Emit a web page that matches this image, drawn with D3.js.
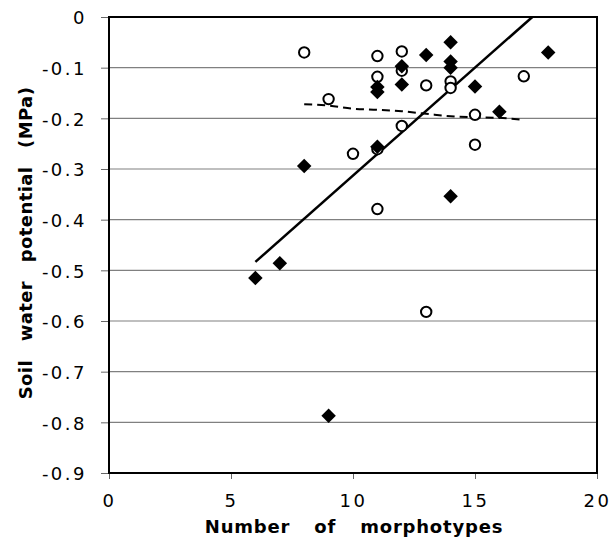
<!DOCTYPE html>
<html>
<head>
<meta charset="utf-8">
<script src="https://cdn.jsdelivr.net/npm/d3@7"></script>
<style>
body { margin: 0; background: #fff; }
svg { display: block; }
text { font-family: "DejaVu Sans", Verdana, sans-serif; fill: #000; }
</style>
</head>
<body>
<svg class="chart"></svg>
<script>
var margin = { top: 17, right: 17, bottom: 75, left: 109 };
var width = 614 - margin.left - margin.right;
var height = 548 - margin.top - margin.bottom;

// open circles
var circX = [8, 11, 12, 11, 12, 13, 14, 14, 17, 9, 15, 12, 15, 10, 11, 11, 13];
var circY = [-0.070, -0.077, -0.068, -0.118, -0.106, -0.135, -0.127, -0.140, -0.117, -0.162, -0.193, -0.215, -0.252, -0.270, -0.261, -0.379, -0.582];

// filled diamonds
var diaX = [14, 13, 14, 14, 12, 12, 11, 11, 18, 15, 16, 11, 8, 14, 6, 7, 9];
var diaY = [-0.050, -0.075, -0.088, -0.100, -0.097, -0.133, -0.138, -0.148, -0.070, -0.137, -0.187, -0.256, -0.294, -0.354, -0.515, -0.486, -0.787];

// dashed trend
var trendX = [8, 9, 10, 11, 12, 13, 14, 15, 16, 17];
var trendY = [-0.172, -0.175, -0.181, -0.183, -0.186, -0.191, -0.196, -0.198, -0.199, -0.203];

// solid regression (y = a + b x)
var regA = -0.739;
var regB = 0.0426;
var regX = [6, 17.35];

var xTicks = [0, 5, 10, 15, 20];
var yTicks = [0, -0.1, -0.2, -0.3, -0.4, -0.5, -0.6, -0.7, -0.8, -0.9];

var chart = d3.select(".chart")
    .attr("width", 614)
    .attr("height", 548);

var g = chart.append("g")
    .attr("transform", "translate(" + margin.left + "," + margin.top + ")");

var x = d3.scaleLinear().domain([0, 20]).range([0, width]);
var y = d3.scaleLinear().domain([0, -0.9]).range([0, height]);

// gridlines
g.selectAll("line.grid")
    .data(yTicks.slice(1, -1))
    .enter()
    .append("line")
    .attr("class", "grid")
    .attr("x1", 0)
    .attr("x2", width)
    .attr("y1", function(d) { return y(d); })
    .attr("y2", function(d) { return y(d); })
    .attr("stroke", "#808080")
    .attr("stroke-width", 1.2);

// axes
var yAxis = g.append("g")
    .call(d3.axisLeft(y).tickValues(yTicks).tickSize(8).tickPadding(14)
        .tickFormat(function(d) { return d === 0 ? "0" : d3.format(".1f")(d).replace("\u2212", "-"); }));
var xAxis = g.append("g")
    .attr("transform", "translate(0," + height + ")")
    .call(d3.axisBottom(x).tickValues(xTicks).tickSize(6).tickPadding(12));

[yAxis, xAxis].forEach(function(a) {
    a.select(".domain").remove();
    a.selectAll(".tick line").attr("stroke", "#666").attr("stroke-width", 1);
    a.selectAll(".tick text")
        .style("font-family", "'DejaVu Sans', Verdana, sans-serif")
        .style("font-size", "18px")
        .style("letter-spacing", "2.5px")
        .attr("fill", "#000");
});
yAxis.selectAll(".tick text").attr("dy", "0.38em");
xAxis.selectAll(".tick text").attr("dy", "0.9em");

// frame
g.append("rect")
    .attr("width", width)
    .attr("height", height)
    .attr("fill", "none")
    .attr("stroke", "#000")
    .attr("stroke-width", 2);

// regression line
g.append("line")
    .attr("x1", x(regX[0]))
    .attr("y1", y(regA + regB * regX[0]))
    .attr("x2", x(regX[1]))
    .attr("y2", y(regA + regB * regX[1]))
    .attr("stroke", "#000")
    .attr("stroke-width", 2.5);

// dashed trend
var trendLine = d3.line()
    .x(function(d, i) { return x(trendX[i]); })
    .y(function(d) { return y(d); })
    .curve(d3.curveMonotoneX);

g.append("path")
    .datum(trendY)
    .attr("d", trendLine)
    .attr("fill", "none")
    .attr("stroke", "#000")
    .attr("stroke-width", 2)
    .attr("stroke-dasharray", "8,5");

// circles
g.selectAll("circle.obs")
    .data(circY)
    .enter()
    .append("circle")
    .attr("class", "obs")
    .attr("cx", function(d, i) { return x(circX[i]); })
    .attr("cy", function(d) { return y(d); })
    .attr("r", 5.2)
    .attr("fill", "#fff")
    .attr("stroke", "#000")
    .attr("stroke-width", 2);

// diamonds
var diamond = d3.symbol().type(d3.symbolSquare).size(105);
g.selectAll("path.dia")
    .data(diaY)
    .enter()
    .append("path")
    .attr("class", "dia")
    .attr("d", diamond)
    .attr("transform", function(d, i) {
        return "translate(" + x(diaX[i]) + "," + y(d) + ") rotate(45)";
    })
    .attr("fill", "#000");

// axis titles
chart.append("text")
    .attr("x", 354)
    .attr("y", 533)
    .attr("text-anchor", "middle")
    .style("font-size", "18px")
    .style("font-weight", "bold")
    .style("word-spacing", "17px")
    .style("letter-spacing", "0.8px")
    .text("Number of morphotypes");

chart.append("text")
    .attr("transform", "translate(32,243) rotate(-90)")
    .attr("text-anchor", "middle")
    .style("font-size", "18px")
    .style("font-weight", "bold")
    .style("word-spacing", "12px")
    .style("letter-spacing", "0.4px")
    .text("Soil water potential (MPa)");
</script>
</body>
</html>
